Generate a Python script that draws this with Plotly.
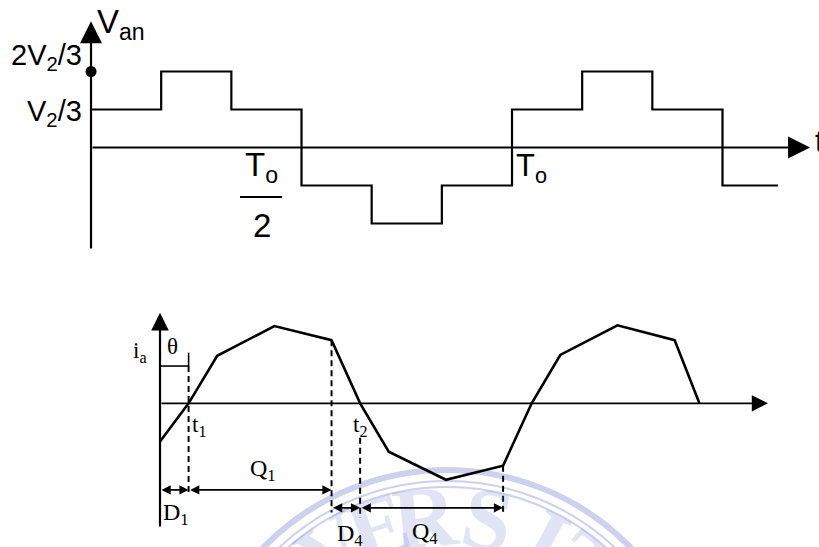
import math
import plotly.graph_objects as go

# ---------------- data ----------------
# Six-step phase voltage V_an: time in units of T0, level in units of V2/3
step_times = [0, 1/6, 2/6, 3/6, 4/6, 5/6, 1, 7/6, 8/6, 9/6, 1.632]
step_levels = [1, 2, 1, -1, -2, -1, 1, 2, 1, -1, -1]
peak_level = 2            # the 2V2/3 dot on the vertical axis
half_period = 0.5         # T0/2
full_period = 1.0         # T0

# Phase current i_a: breakpoints in electrical degrees, arbitrary units
ia_angle = [0, 30, 60, 120, 180, 210, 240, 300, 360, 390, 420, 480, 540, 566]
ia_value = [-4.9, 0, 6.1, 9.9, 8.1, 0, -6.2, -9.8, -8.0, 0, 6.2, 10.0, 8.1, 0]

# Conduction intervals (label, start, end) in degrees
t1_angle, t2_angle = 30, 210
intervals_upper = [("D<sub>1</sub>", 0, 30), ("Q<sub>1</sub>", 30, 180)]
intervals_lower = [("D<sub>4</sub>", 180, 210), ("Q<sub>4</sub>", 210, 360)]

# ---------------- axes ----------------
X_TOP = [-0.2162, 1.7292]
Y_TOP = [-10.513, 3.882]
X_BOT = [-167.9, 691.5]
Y_BOT = [-18.42, 51.71]

SANS = "Liberation Sans, Arial, sans-serif"
SERIF = "Liberation Serif, Times New Roman, serif"
INK = "black"

fig = go.Figure()


def arrow(x0, y0, x1, y1, xr, yr, width, size, both=False):
    fig.add_annotation(
        x=x1, y=y1, ax=x0, ay=y0, xref=xr, yref=yr, axref=xr, ayref=yr,
        text="", showarrow=True, arrowhead=2, startarrowhead=2,
        arrowside="end+start" if both else "end",
        arrowwidth=width, arrowsize=size, startarrowsize=size,
        arrowcolor=INK, standoff=0, startstandoff=0,
    )


def label(text, x, y, xr, yr, size, family, xanchor="center", yanchor="middle"):
    fig.add_annotation(
        x=x, y=y, xref=xr, yref=yr, text=text, showarrow=False,
        font=dict(size=size, family=family, color=INK),
        xanchor=xanchor, yanchor=yanchor,
    )


def segment(xs, ys, xa, ya, width, dash="solid"):
    fig.add_trace(go.Scatter(
        x=xs, y=ys, xaxis=xa, yaxis=ya, mode="lines",
        line=dict(color=INK, width=width, dash=dash),
        hoverinfo="skip", showlegend=False,
    ))


# ---------------- watermark seal (faint, behind everything) ----------------
seal_cx, seal_cy = 447 / 819, 1 - 726 / 547
for r, w in [(256, 6), (245, 2), (239, 2)]:
    fig.add_shape(
        type="circle", xref="paper", yref="paper",
        xsizemode="pixel", ysizemode="pixel",
        xanchor=seal_cx, yanchor=seal_cy,
        x0=-r, x1=r, y0=-r, y1=r,
        line=dict(color="rgb(205,209,238)", width=w), layer="below",
    )
for ch, ang in [("V", -33), ("E", -19), ("R", -6), ("S", 11), ("I", 28), ("T", 41)]:
    rad = 210
    px = 447 + rad * math.sin(math.radians(ang))
    py = 726 - rad * math.cos(math.radians(ang))
    fig.add_annotation(
        x=px / 819, y=1 - py / 547, xref="paper", yref="paper",
        text="<b>" + ch + "</b>", showarrow=False, textangle=ang,
        font=dict(size=88, family=SERIF, color="rgba(120,130,210,0.22)"),
        xanchor="center", yanchor="middle",
    )

# ---------------- upper graph: V_an ----------------
fig.add_trace(go.Scatter(
    x=step_times, y=step_levels, xaxis="x", yaxis="y", mode="lines",
    line=dict(color=INK, width=2.2, shape="hv"),
    hoverinfo="skip", showlegend=False,
))
fig.add_trace(go.Scatter(
    x=[0], y=[peak_level], xaxis="x", yaxis="y", mode="markers",
    marker=dict(color=INK, size=11), hoverinfo="skip", showlegend=False,
))
arrow(0, -2.70, 0, 3.32, "x", "y", 2.2, 2.0)
arrow(0, 0, 1.708, 0, "x", "y", 2.2, 2.0)

label("V<sub>an</sub>", 0.010, 3.25, "x", "y", 33, SANS, "left")
label("2V<sub>2</sub>/3", -0.017, 2.38, "x", "y", 29, SANS, "right")
label("V<sub>2</sub>/3", -0.017, 0.90, "x", "y", 29, SANS, "right")
label("T<sub>o</sub>", half_period - 0.094, -0.50, "x", "y", 33, SANS)
segment([half_period - 0.146, half_period - 0.046], [-1.30, -1.30], "x", "y", 2)
label("2", half_period - 0.094, -2.05, "x", "y", 33, SANS)
label("T<sub>o</sub>", full_period + 0.005, -0.55, "x", "y", 31, SANS, "left")
label("t", 1.715, 0.15, "x", "y", 31, SANS, "left")

# ---------------- lower graph: i_a ----------------
fig.add_trace(go.Scatter(
    x=ia_angle, y=ia_value, xaxis="x2", yaxis="y2", mode="lines",
    line=dict(color=INK, width=2.6), hoverinfo="skip", showlegend=False,
))
arrow(0, -16.0, 0, 11.6, "x2", "y2", 2.2, 1.6)
arrow(0, 0, 638, 0, "x2", "y2", 1.8, 1.8)

# theta bracket
segment([0, t1_angle], [4.78, 4.78], "x2", "y2", 1.6)
segment([t1_angle, t1_angle], [4.78, 6.5], "x2", "y2", 1.6)

DASH = "6px,4px"
segment([t1_angle, t1_angle], [4.78, -11.7], "x2", "y2", 2, DASH)
segment([180, 180], [8.1, -14.0], "x2", "y2", 2, DASH)
segment([t2_angle, t2_angle], [-4.4, -14.7], "x2", "y2", 2, DASH)
segment([360, 360], [-8.0, -14.3], "x2", "y2", 2, DASH)

for name, a0, a1 in intervals_upper:
    arrow(a0, -11.1, a1, -11.1, "x2", "y2", 1.6, 1.15, both=True)
for name, a0, a1 in intervals_lower:
    arrow(a0, -13.4, a1, -13.4, "x2", "y2", 1.6, 1.15, both=True)

label("i<sub>a</sub>", -21, 6.6, "x2", "y2", 23, SERIF)
label("θ", 12.6, 7.3, "x2", "y2", 23, SERIF)
label("t<sub>1</sub>", 31.5, -2.9, "x2", "y2", 23, SERIF, "left")
label("t<sub>2</sub>", 200.5, -2.9, "x2", "y2", 23, SERIF, "left")
label("Q<sub>1</sub>", 108, -8.5, "x2", "y2", 24, SERIF)
label("D<sub>1</sub>", 16.8, -14.2, "x2", "y2", 24, SERIF)
label("D<sub>4</sub>", 199.4, -16.9, "x2", "y2", 24, SERIF)
label("Q<sub>4</sub>", 278, -16.6, "x2", "y2", 24, SERIF)

hidden = dict(visible=False, showgrid=False, zeroline=False, fixedrange=True)
fig.update_layout(
    width=819, height=547,
    margin=dict(l=0, r=0, t=0, b=0, pad=0),
    paper_bgcolor="white", plot_bgcolor="rgba(0,0,0,0)",
    showlegend=False,
    xaxis=dict(range=X_TOP, domain=[0, 1], anchor="y", **hidden),
    yaxis=dict(range=Y_TOP, domain=[0, 1], anchor="x", **hidden),
    xaxis2=dict(range=X_BOT, domain=[0, 1], anchor="y2", overlaying="x", **hidden),
    yaxis2=dict(range=Y_BOT, domain=[0, 1], anchor="x2", overlaying="y", **hidden),
)

fig.write_html("out.html", config=dict(displayModeBar=False))
